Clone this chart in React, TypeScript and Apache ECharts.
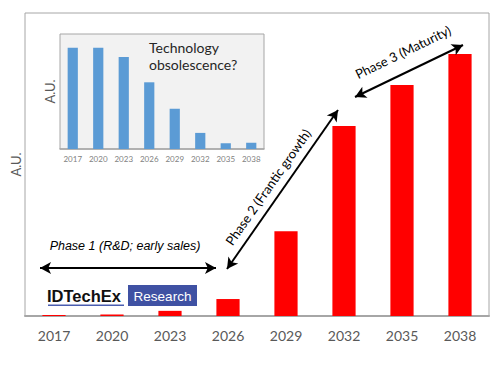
import React, { useEffect, useRef } from "react";
import * as echarts from "echarts";

const years = ["2017", "2020", "2023", "2026", "2029", "2032", "2035", "2038"];
const mainValues = [0.3, 0.5, 1.7, 5.6, 28, 62.7, 76.2, 86.5];
const insetValues = [88, 88, 80, 58, 35, 14, 5, 5.5];
const phase1Label = "Phase 1 (R&D; early sales)";
const phase2Label = "Phase 2 (Frantic growth)";
const phase3Label = "Phase 3 (Maturity)";
const insetNote = "Technology\nobsolescence?";
const axisName = "A.U.";

const CAL = "Lato, 'Open Sans', sans-serif";
const ARIAL = "'Liberation Sans', Arial, sans-serif";

export default function App() {
  const ref = useRef<HTMLDivElement>(null);
  useEffect(() => {
    if (!ref.current) return;
    const chart = echarts.init(ref.current, undefined, { renderer: "svg" });
    const arrowLine = { color: "#000", width: 2, type: "solid" as const };
    chart.setOption({
      animation: false,
      backgroundColor: "#fff",
      grid: [
        { left: 25, right: 12, top: 13, bottom: 50, show: true, borderColor: "#a6a6a6", borderWidth: 1 },
        { left: 60, top: 34, width: 204, height: 115, show: true, backgroundColor: "#f2f2f2", borderColor: "#a6a6a6", borderWidth: 1, z: 5 },
      ],
      xAxis: [
        {
          type: "category", gridIndex: 0, data: years,
          axisLine: { lineStyle: { color: "#a6a6a6", width: 2 } },
          axisTick: { show: false },
          axisLabel: { color: "#595959", fontSize: 14, fontFamily: CAL, margin: 12 },
        },
        {
          type: "category", gridIndex: 1, data: years, z: 6,
          axisLine: { lineStyle: { color: "#a6a6a6", width: 1.5 } },
          axisTick: { show: false },
          axisLabel: { color: "#7f7f7f", fontSize: 8, fontFamily: CAL, margin: 6 },
        },
      ],
      yAxis: [
        {
          type: "value", gridIndex: 0, min: 0, max: 100,
          axisLine: { show: false }, axisTick: { show: false }, axisLabel: { show: false }, splitLine: { show: false },
          name: axisName, nameLocation: "middle", nameGap: 3, nameRotate: 90,
          nameTextStyle: { color: "#595959", fontSize: 13, fontFamily: CAL },
        },
        {
          type: "value", gridIndex: 1, min: 0, max: 100, z: 6,
          axisLine: { show: false }, axisTick: { show: false }, axisLabel: { show: false }, splitLine: { show: false },
          name: axisName, nameLocation: "middle", nameGap: 4, nameRotate: 90,
          nameTextStyle: { color: "#595959", fontSize: 13, fontFamily: CAL },
        },
      ],
      series: [
        {
          type: "bar", xAxisIndex: 0, yAxisIndex: 0, data: mainValues, barWidth: "40%",
          itemStyle: { color: "#ff0000" },
          markLine: {
            silent: true, symbol: ["arrow", "arrow"], symbolSize: [9, 11],
            lineStyle: arrowLine, label: { show: false },
            data: [
              [{ x: 40, y: 268 }, { x: 216, y: 268 }],
              [{ x: 227, y: 269 }, { x: 338, y: 110 }],
              [{ x: 355, y: 97 }, { x: 463, y: 45 }],
            ],
          },
        },
        {
          type: "bar", xAxisIndex: 1, yAxisIndex: 1, data: insetValues, barWidth: "40%", z: 7,
          itemStyle: { color: "#5b9bd5" },
        },
      ],
      graphic: [
        {
          type: "text", x: 149, y: 39, z: 100,
          style: { text: insetNote, fill: "#262626", fontSize: 14, fontFamily: CAL, lineHeight: 17 },
        },
        {
          type: "text", x: 125, y: 246, z: 100,
          style: { text: phase1Label, fill: "#000", fontSize: 12.5, fontStyle: "italic", fontFamily: ARIAL, align: "center", verticalAlign: "middle" },
        },
        {
          type: "text", x: 268, y: 187, rotation: (55 * Math.PI) / 180, z: 100,
          style: { text: phase2Label, fill: "#000", fontSize: 13, fontFamily: CAL, align: "center", verticalAlign: "middle" },
        },
        {
          type: "text", x: 403, y: 52, rotation: (26 * Math.PI) / 180, z: 100,
          style: { text: phase3Label, fill: "#000", fontSize: 13, fontFamily: CAL, align: "center", verticalAlign: "middle" },
        },
        {
          type: "text", x: 47, y: 296, z: 100,
          style: { text: "IDTechEx", fill: "#111", fontSize: 16.5, fontWeight: "bold", fontFamily: ARIAL, verticalAlign: "middle" },
        },
        { type: "rect", z: 100, shape: { x: 48, y: 304.5, width: 76, height: 1.5 }, style: { fill: "#4a5db0" } },
        { type: "rect", z: 100, shape: { x: 128, y: 285, width: 69, height: 21 }, style: { fill: "#3f51a3" } },
        {
          type: "text", x: 162.5, y: 296, z: 101,
          style: { text: "Research", fill: "#fff", fontSize: 13.5, fontFamily: ARIAL, align: "center", verticalAlign: "middle" },
        },
      ],
    });
    return () => chart.dispose();
  }, []);
  return <div ref={ref} style={{ width: 501, height: 366, position: "absolute", left: 0, top: 0 }} />;
}
